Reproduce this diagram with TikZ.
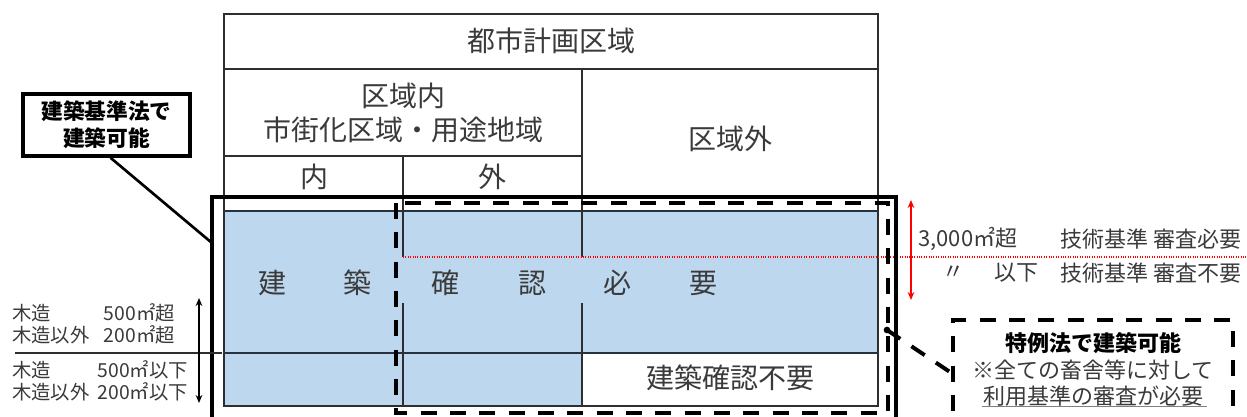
\documentclass[tikz,border=0pt]{standalone}
\usepackage{fontspec}
\setmainfont{Noto Sans CJK JP}
\usetikzlibrary{arrows.meta}
\definecolor{cellblue}{HTML}{BDD7EE}
\definecolor{txt}{HTML}{3A3A3A}
\definecolor{tline}{HTML}{2E2E2E}
\definecolor{bline}{HTML}{26323F}
\begin{document}
\begin{tikzpicture}[x=0.75pt,y=-0.75pt,
  tabline/.style={draw=tline,line width=1.1pt},
  blueline/.style={draw=bline,line width=1.2pt},
  bigtxt/.style={text=txt,font=\fontsize{21}{25}\selectfont,inner sep=0pt,align=center},
  midtxt/.style={text=txt,font=\fontsize{16.5}{20}\selectfont,inner sep=0pt},
  smalltxt/.style={text=txt,font=\fontsize{14.5}{17}\selectfont,inner sep=0pt},
  thickbox/.style={draw=black,line width=3pt},
  dashbox/.style={draw=black,line width=3pt,dash pattern=on 12pt off 10pt},
  lbox/.style={draw=black,line width=2.6pt,fill=white,minimum width=125pt,minimum height=46.5pt,inner sep=0pt,align=center,font=\bfseries\fontsize{16.3}{20}\selectfont},
  rbox/.style={draw=black,line width=3pt,dash pattern=on 12pt off 10pt,fill=white,minimum width=210pt,minimum height=74pt,inner sep=0pt,align=center,text=txt,font=\fontsize{16.5}{20}\selectfont},
  conn/.style={draw=black,line width=2pt},
  dconn/.style={draw=black,line width=3pt,dash pattern=on 12pt off 10pt},
  redarrow/.style={draw=red,line width=0.9pt,{Stealth[length=6pt,width=5pt]}-{Stealth[length=6pt,width=5pt]}},
  blackarrow/.style={draw=black,line width=0.9pt,{Stealth[length=6pt,width=5pt]}-{Stealth[length=6pt,width=5pt]}},
  reddot/.style={draw=red,line width=0.9pt,dash pattern=on 0.8pt off 1pt}
]
\useasboundingbox (0,0) rectangle (1247,417);
\clip (0,0) rectangle (1247,417);

% blue cells
\fill[cellblue] (225,211) rectangle (878,406);
\fill[white] (582,353) rectangle (878,406);

% table lines
\draw[tabline] (224,14) rectangle (878,406);
\draw[tabline] (224,69) -- (878,69);
\draw[tabline] (224,156) -- (582,156);
\draw[blueline] (224,211) -- (878,211);
\draw[blueline] (224,353) -- (878,353);
\draw[tabline] (582,69) -- (582,257);
\draw[tabline] (582,303) -- (582,406);
\draw[tabline] (403,156) -- (403,257);
\draw[tabline] (403,303) -- (403,406);

% red dotted line and arrows
\coordinate (rd1) at (403,257);
\coordinate (rd2) at (1247,257);
\draw[reddot] (rd1) -- (rd2);
\coordinate (ra1) at (911,200);
\coordinate (ra2) at (911,300);
\draw[redarrow] (ra1) -- (ra2);

% header texts
\node[bigtxt] (t1) at (551,41) {都市計画区域};
\node[bigtxt] (t2) at (403,113) {区域内\\市街化区域・用途地域};
\node[bigtxt] (t3) at (730,139) {区域外};
\node[bigtxt] (t4) at (314,177) {内};
\node[bigtxt] (t5) at (492,177) {外};
\node[bigtxt] (c1) at (272,283) {建};
\node[bigtxt] (c2) at (357,283) {築};
\node[bigtxt] (c3) at (445,283) {確};
\node[bigtxt] (c4) at (532,283) {認};
\node[bigtxt] (c5) at (617,283) {必};
\node[bigtxt] (c6) at (703,283) {要};
\node[bigtxt] (t6) at (730,378) {建築確認不要};

% boxes
\draw[thickbox] (212,197) rectangle (896,440);
\draw[dashbox] (396,203) rectangle (888,413);

% right labels
\node[midtxt,anchor=west] (r1) at (918,239) {3,000㎡超};
\node[midtxt,anchor=west] (r2) at (1060,239) {技術基準 審査必要};
\node[midtxt] (r3) at (953,273) {〃};
\node[midtxt,anchor=west] (r4) at (994,273) {以下};
\node[midtxt,anchor=west] (r5) at (1060,273) {技術基準 審査不要};

% left labels
\node[smalltxt,anchor=west] (l1) at (12,313) {木造};
\node[smalltxt,anchor=east] (l2) at (175,313) {500㎡超};
\node[smalltxt,anchor=west] (l3) at (12,335) {木造以外};
\node[smalltxt,anchor=east] (l4) at (175,335) {200㎡超};
\node[smalltxt,anchor=west] (l5) at (12,370) {木造};
\node[smalltxt,anchor=east] (l6) at (188,370) {500㎡以下};
\node[smalltxt,anchor=west] (l7) at (12,392) {木造以外};
\node[smalltxt,anchor=east] (l8) at (188,392) {200㎡以下};
\coordinate (hl1) at (15,353);
\coordinate (hl2) at (222,353);
\draw[tabline] (hl1) -- (hl2);
\coordinate (ba1) at (199,298);
\coordinate (ba2) at (199,403);
\draw[blackarrow] (ba1) -- (ba2);

% left callout
\node[lbox] (lb) at (106.5,125) {建築基準法で\\建築可能};
\coordinate (lt) at (212,243);
\draw[conn] ([xshift=3pt]lb.south) -- (lt);

% right callout
\node[rbox] (rb) at (1093,369.5) {\textcolor{black}{\textbf{特例法で建築可能}}\\※全ての畜舎等に対して\\利用基準の審査が必要};
\coordinate (dt) at (887,330);
\coordinate (de) at (953,374);
\fill[black] (dt) circle (2.5pt);
\draw[dconn] (dt) -- (de);
\coordinate (u1) at (982,406);
\coordinate (u2) at (1207,406);
\draw[draw=gray,line width=0.7pt] (u1) -- (u2);
\end{tikzpicture}
\end{document}
